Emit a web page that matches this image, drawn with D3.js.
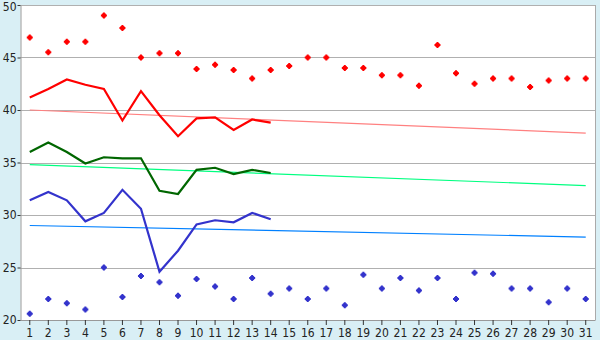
<!DOCTYPE html>
<html>
<head>
<meta charset="utf-8">
<script src="https://cdn.jsdelivr.net/npm/d3@7"></script>
<style>
    body { margin: 0; background: #d9eff5; }
    svg { display: block; }
</style>
</head>
<body>
<div id="chart"></div>
<script>
// Days of the month.
const days = d3.range(1, 32);

// Red series: daily points and the line for the first 14 days.
const redPoints = [46.9, 45.5, 46.5, 46.5, 49.0, 47.8, 45.0, 45.4, 45.4, 43.9,
    44.3, 43.8, 43.0, 43.8, 44.2, 45.0, 45.0, 44.0, 44.0, 43.3,
    43.3, 42.3, 46.2, 43.5, 42.5, 43.0, 43.0, 42.2, 42.8, 43.0, 43.0];
const redLine = [41.2, 42.0, 42.9, 42.4, 42.0, 39.0, 41.8, 39.5, 37.5, 39.2,
    39.3, 38.1, 39.1, 38.8];
const redTrend = [40.0, 37.8];

// Green series.
const greenLine = [36.0, 36.9, 36.0, 34.9, 35.5, 35.4, 35.4, 32.3, 32.0, 34.3,
    34.5, 33.9, 34.3, 34.0];
const greenTrend = [34.8, 32.8];

// Blue series.
const blueLine = [31.4, 32.2, 31.4, 29.4, 30.2, 32.4, 30.6, 24.6, 26.6, 29.1,
    29.5, 29.3, 30.2, 29.6];
const bluePoints = [20.6, 22.0, 21.6, 21.0, 25.0, 22.2, 24.2, 23.6, 22.3, 23.9,
    23.2, 22.0, 24.0, 22.5, 23.0, 22.0, 23.0, 21.4, 24.3, 23.0,
    24.0, 22.8, 24.0, 22.0, 24.5, 24.4, 23.0, 23.0, 21.7, 23.0, 22.0];
const blueTrend = [29.0, 27.9];

const yTicks = [20, 25, 30, 35, 40, 45, 50];

// Dimensions.
let margin = { top: 5, right: 5, bottom: 20, left: 20.5 };
let width = 600 - margin.left - margin.right;
let height = 340 - margin.top - margin.bottom;

let svg = d3.select("#chart")
    .append("svg")
    .attr("width", 600)
    .attr("height", 340)
    .append("g")
    .attr("transform", "translate(" + margin.left + "," + margin.top + ")");

// Scales.
let x = d3.scaleBand().domain(days).range([0, width]);
let cx = (d) => x(d) + x.bandwidth() / 2;
let y = d3.scaleLinear().domain([20, 50]).range([height, 0]);

// Plot background.
svg.append("rect")
    .attr("width", width)
    .attr("height", height)
    .attr("fill", "#fff");

// Gridlines.
svg.append("g")
    .selectAll("line")
    .data(yTicks)
    .enter()
    .append("line")
    .attr("x1", 0)
    .attr("x2", width)
    .attr("y1", (d) => Math.round(y(d)) + 0.5)
    .attr("y2", (d) => Math.round(y(d)) + 0.5)
    .attr("stroke", "#b0b0b0");

// Right border.
svg.append("line")
    .attr("x1", width + 0.5).attr("x2", width + 0.5)
    .attr("y1", 0).attr("y2", height)
    .attr("stroke", "#aaa");

// Axes.
let xAxis = svg.append("g")
    .attr("transform", "translate(0," + height + ")")
    .call(d3.axisBottom(x).tickSize(5).tickPadding(3).tickSizeOuter(0));
let yAxis = svg.append("g")
    .call(d3.axisLeft(y).tickValues(yTicks).tickSize(3).tickPadding(1).tickSizeOuter(0));
[xAxis, yAxis].forEach(a => {
    a.select(".domain").attr("stroke", "#999");
    a.selectAll(".tick line").attr("stroke", "#333");
    a.selectAll("text")
        .attr("font-size", 12)
        .attr("font-family", "'DejaVu Sans Condensed', 'DejaVu Sans', sans-serif")
        .attr("fill", "#222");
});
// Keep the top label inside the window.
yAxis.selectAll(".tick text").filter((d) => d === 50).attr("dy", "0.48em");

// Trendlines.
function trend(vals, color) {
    svg.append("line")
        .attr("x1", cx(days[0]))
        .attr("x2", cx(days[days.length - 1]))
        .attr("y1", y(vals[0]))
        .attr("y2", y(vals[1]))
        .attr("stroke", color)
        .attr("stroke-width", 1.2);
}
trend(redTrend, "#ff8080");
trend(greenTrend, "#00ff80");
trend(blueTrend, "#0080ff");

// Lines.
let line = d3.line()
    .x((d, i) => cx(days[i]))
    .y((d) => y(d));
function series(vals, color) {
    svg.append("path")
        .datum(vals)
        .attr("d", line)
        .attr("fill", "none")
        .attr("stroke", color)
        .attr("stroke-width", 2.2);
}
series(redLine, "#ff0000");
series(greenLine, "#006600");
series(blueLine, "#3333cc");

// Point markers (small stepped diamond).
const marker = "M-1,-3h2v1h1v1h1v2h-1v1h-1v1h-2v-1h-1v-1h-1v-2h1v-1h1z";
function points(vals, color) {
    svg.append("g")
        .selectAll("path")
        .data(vals)
        .enter()
        .append("path")
        .attr("d", marker)
        .attr("transform", (d, i) => "translate(" + cx(days[i]) + "," + y(d) + ")")
        .attr("fill", color);
}
points(redPoints, "#ff0000");
points(bluePoints, "#3333cc");
</script>
</body>
</html>
